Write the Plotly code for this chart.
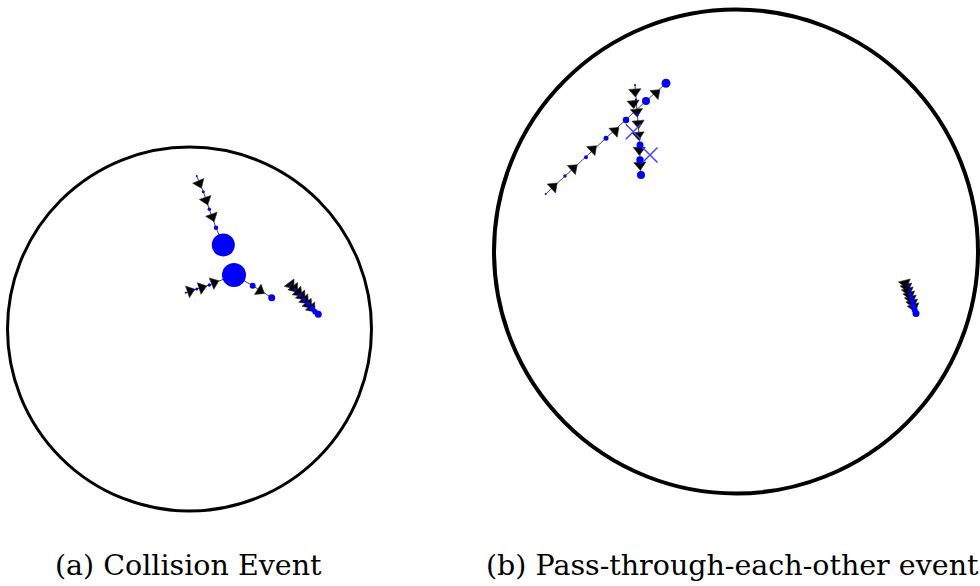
import numpy as np
import plotly.graph_objects as go

# ---------------- data (arena frames: origin at arena centre, y up) ----------------
ARENA_R_A = 182
ARENA_R_B = 242

# Panel (a) collision event
a1_x = [7.2, 13.8, 19.8, 26.5, 33.8]
a1_y = [153.0, 137.3, 119.7, 101.3, 84.0]
a1_s = [2, 3, 3.5, 4.5, 23]
a1_ax = [9.8, 16.5, 22.8]
a1_ay = [145.7, 129.0, 112.3]

a2_x = [-3.8, 7.2, 19.8, 44.5, 63.2, 82.2]
a2_y = [36.3, 40.0, 44.0, 54.0, 43.3, 31.3]
a2_s = [2, 3, 3.5, 24, 6, 7]
a2_ax = [0.5, 12.2, 24.5, 70.5]
a2_ay = [38.0, 41.3, 46.3, 38.3]

a3_x = [101.2, 105.5, 110.5, 114.5, 118.5, 122.2, 125.5, 128.8]
a3_y = [44.7, 39.0, 34.0, 29.3, 25.0, 20.7, 17.3, 14.7]
a3_s = [2, 3, 3.5, 4, 4.5, 5, 5.5, 7]
a3_ax = [101.2, 104.8, 108.8, 112.2, 115.5, 118.8, 122.2]
a3_ay = [44.3, 40.7, 36.7, 33.0, 29.0, 24.7, 21.0]

# Panel (b) pass-through-each-other event
b1_x = [-190.3, -171.0, -150.0, -130.0, -110.0, -90.0, -70.0]
b1_y = [57.5, 75.5, 94.2, 113.2, 131.5, 150.5, 168.2]
b1_s = [2, 3.3, 4, 5, 6.5, 8, 9]
b1_ax = [-182.7, -162.7, -143.3, -121.0, -80.0]
b1_ay = [64.8, 83.2, 102.2, 120.5, 158.2]

b2_x = [-101.0, -100.0, -98.7, -96.0, -96.0, -95.0]
b2_y = [166.5, 151.5, 137.2, 106.5, 91.5, 76.5]
b2_s = [2, 2.5, 3, 7, 7.5, 8]
b2_ax = [-101.0, -102.7, -99.3, -97.7, -97.7, -96.7, -96.0]
b2_ay = [159.8, 148.2, 139.8, 128.2, 116.5, 101.5, 86.5]

b3_x = [172.5, 173.5, 174.5, 175.5, 176.5, 177.5, 178.7, 180.0]
b3_y = [-34.5, -38.5, -42.5, -46.5, -50.5, -54.5, -58.5, -62.0]
b3_s = [2.5, 3, 4, 4.5, 5, 5.5, 6, 7]
b3_ax = [169.0, 170.5, 171.9, 173.4, 174.9, 176.3, 177.8]
b3_ay = [-31.5, -35.5, -39.5, -43.5, -47.5, -51.5, -55.5]

# predicted positions (crosses) in panel (b)
bx_x = [-102.7, -86.0]
bx_y = [119.8, 96.5]

captions = ["(a) Collision Event", "(b) Pass-through-each-other event"]

# ---------------- helpers ----------------
def arrow_angles(tx, ty, ax, ay):
    P = np.column_stack([tx, ty]).astype(float)
    out = []
    for q in np.column_stack([ax, ay]).astype(float):
        best, best_d = 0, np.inf
        for i in range(len(P) - 1):
            a, b = P[i], P[i + 1]
            d = b - a
            t = np.clip(np.dot(q - a, d) / max(np.dot(d, d), 1e-9), 0, 1)
            dist = np.linalg.norm(q - (a + t * d))
            if dist < best_d:
                best, best_d = i, dist
        d = P[best + 1] - P[best]
        out.append(float(np.degrees(np.arctan2(d[0], d[1]))))
    return out


fig = go.Figure()

BLUE = "#0000ff"


def add_track(tx, ty, ts, ax, ay, xa, ya):
    fig.add_trace(go.Scatter(x=tx, y=ty, mode="lines", xaxis=xa, yaxis=ya,
                             line=dict(color="#444444", width=1), hoverinfo="skip"))
    fig.add_trace(go.Scatter(x=ax, y=ay, mode="markers", xaxis=xa, yaxis=ya,
                             marker=dict(symbol="triangle-up", size=10.5, color="black",
                                         opacity=1,
                                         angle=arrow_angles(tx, ty, ax, ay),
                                         line=dict(width=0.6, color="#222222")),
                             hoverinfo="skip", cliponaxis=False))


def add_dots(tx, ty, ts, xa, ya):
    fig.add_trace(go.Scatter(x=tx, y=ty, mode="markers", xaxis=xa, yaxis=ya,
                             marker=dict(size=ts, color=BLUE, opacity=1, line=dict(width=0)),
                             hoverinfo="skip", cliponaxis=False))


tracks_a = [(a1_x, a1_y, a1_s, a1_ax, a1_ay), (a2_x, a2_y, a2_s, a2_ax, a2_ay),
            (a3_x, a3_y, a3_s, a3_ax, a3_ay)]
tracks_b = [(b1_x, b1_y, b1_s, b1_ax, b1_ay), (b2_x, b2_y, b2_s, b2_ax, b2_ay),
            (b3_x, b3_y, b3_s, b3_ax, b3_ay)]

for t in tracks_a:
    add_track(*t, "x", "y")
for t in tracks_b:
    add_track(*t, "x2", "y2")
for t in tracks_a:
    add_dots(t[0], t[1], t[2], "x", "y")
for t in tracks_b:
    add_dots(t[0], t[1], t[2], "x2", "y2")

fig.add_trace(go.Scatter(x=bx_x, y=bx_y, mode="markers", xaxis="x2", yaxis="y2",
                         marker=dict(symbol="x-thin-open", size=15, color="#4444ff",
                                     opacity=1,
                                     line=dict(width=1.5, color="#4444ff")),
                         hoverinfo="skip"))

fig.add_shape(type="circle", xref="x", yref="y", x0=-ARENA_R_A, x1=ARENA_R_A,
              y0=-ARENA_R_A, y1=ARENA_R_A, line=dict(color="black", width=3), layer="below")
fig.add_shape(type="circle", xref="x2", yref="y2", x0=-ARENA_R_B, x1=ARENA_R_B,
              y0=-ARENA_R_B, y1=ARENA_R_B, line=dict(color="black", width=4), layer="below")

cap_font = dict(family="DejaVu Serif", size=28.5, color="black")
fig.add_annotation(text=captions[0], xref="x", yref="y", x=-1, y=-236,
                   showarrow=False, font=cap_font)
fig.add_annotation(text=captions[1], xref="x2", yref="y2", x=-3.5, y=-313.5,
                   showarrow=False, font=cap_font)

axis_common = dict(visible=False, showgrid=False, zeroline=False, fixedrange=True)
fig.update_layout(
    width=980, height=586,
    margin=dict(l=0, r=0, t=0, b=0),
    paper_bgcolor="white", plot_bgcolor="white",
    showlegend=False,
    xaxis=dict(domain=[0, 0.5], range=[-189.5, 300.5], anchor="y", **axis_common),
    yaxis=dict(domain=[0, 1], range=[-257, 329], anchor="x", **axis_common),
    xaxis2=dict(domain=[0.5, 1], range=[-246, 244], anchor="y2", **axis_common),
    yaxis2=dict(domain=[0, 1], range=[-334.5, 251.5], anchor="x2", **axis_common),
)

fig.write_html("out.html", config={"displayModeBar": False},
               post_script="document.body.style.margin='0';")
